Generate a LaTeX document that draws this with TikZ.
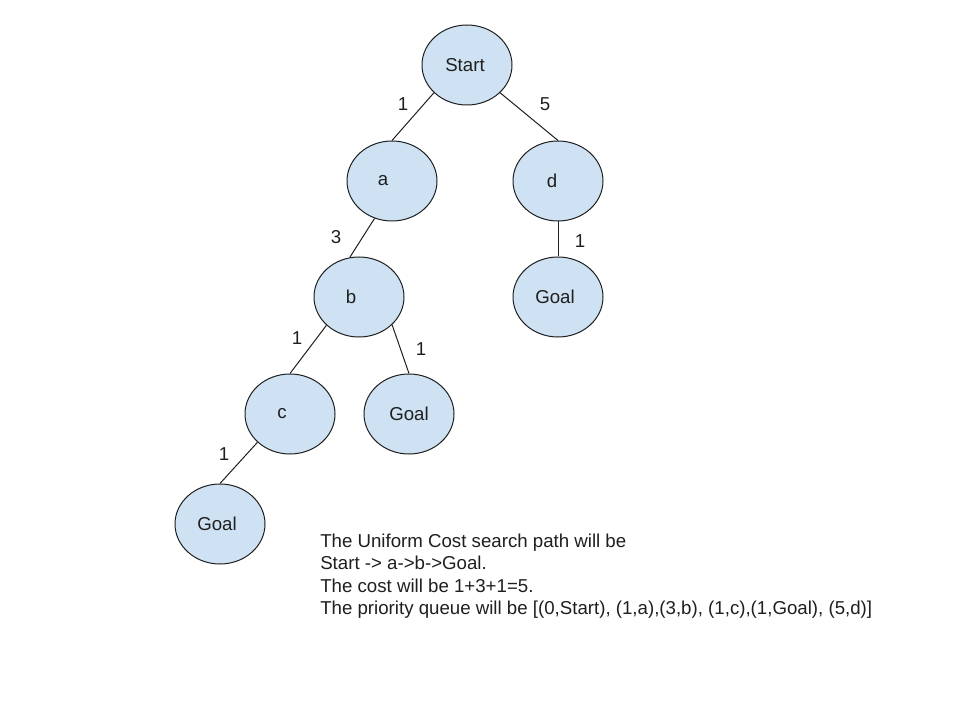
\documentclass[tikz,border=0pt]{standalone}
\usepackage{fontspec}
\setmainfont{Liberation Sans}
\usetikzlibrary{shapes.geometric}
\definecolor{nodefill}{HTML}{CFE2F3}
\definecolor{ink}{HTML}{1F1F1F}
\begin{document}
\begin{tikzpicture}[x=0.75pt,y=-0.75pt,
  state/.style={ellipse,draw=ink,line width=0.75pt,fill=nodefill,minimum width=67.5pt,minimum height=60pt,inner sep=0pt,font=\fontsize{14}{16.7}\selectfont,text=ink},
  edge/.style={draw=ink,line width=0.75pt},
  lbl/.style={inner sep=0pt,font=\fontsize{14}{16.7}\selectfont,text=ink},
  txt/.style={inner sep=0pt,anchor=base west,font=\fontsize{14}{16.7}\selectfont,text=ink}]
\useasboundingbox (0,0) rectangle (960,720);
\fill[white] (0,0) rectangle (960,720);
\node[state] (start) at (467,65) {Start\kern3pt};
\node[state] (a) at (392,181) {a\kern13.5pt};
\node[state] (d) at (558,181) {d\kern9pt};
\node[state] (b) at (359,297) {b\kern12pt};
\node[state] (goald) at (558,297) {Goal\kern4.5pt};
\node[state] (c) at (290,414) {c\kern12pt};
\node[state] (goalb) at (409,414) {Goal};
\node[state] (goalc) at (220,524) {Goal\kern4.5pt};
\draw[edge] (start.220) -- (a.north);
\draw[edge] (start.320) -- (d.north);
\draw[edge] (a.245) -- (b.103);
\draw[edge] (d.south) -- (goald.north);
\draw[edge] (b.221) -- (c.north);
\draw[edge] (b.320) -- (goalb.north);
\draw[edge] (c.221) -- (goalc.north);
\node[lbl] (l1) at (403,104) {1};
\node[lbl] (l2) at (545,104) {5};
\node[lbl] (l3) at (336,237) {3};
\node[lbl] (l4) at (580,241) {1};
\node[lbl] (l5) at (297,338) {1};
\node[lbl] (l6) at (421,349) {1};
\node[lbl] (l7) at (224,454) {1};
\node[txt] (t1) at (320,547) {The Uniform Cost search path will be};
\node[txt] (t2) at (320,569.5) {Start -> a->b->Goal.};
\node[txt] (t3) at (320,592) {The cost will be 1+3+1=5.};
\node[txt] (t4) at (320,614.5) {The priority queue will be [(0,Start), (1,a),(3,b), (1,c),(1,Goal), (5,d)]};
\end{tikzpicture}
\end{document}
